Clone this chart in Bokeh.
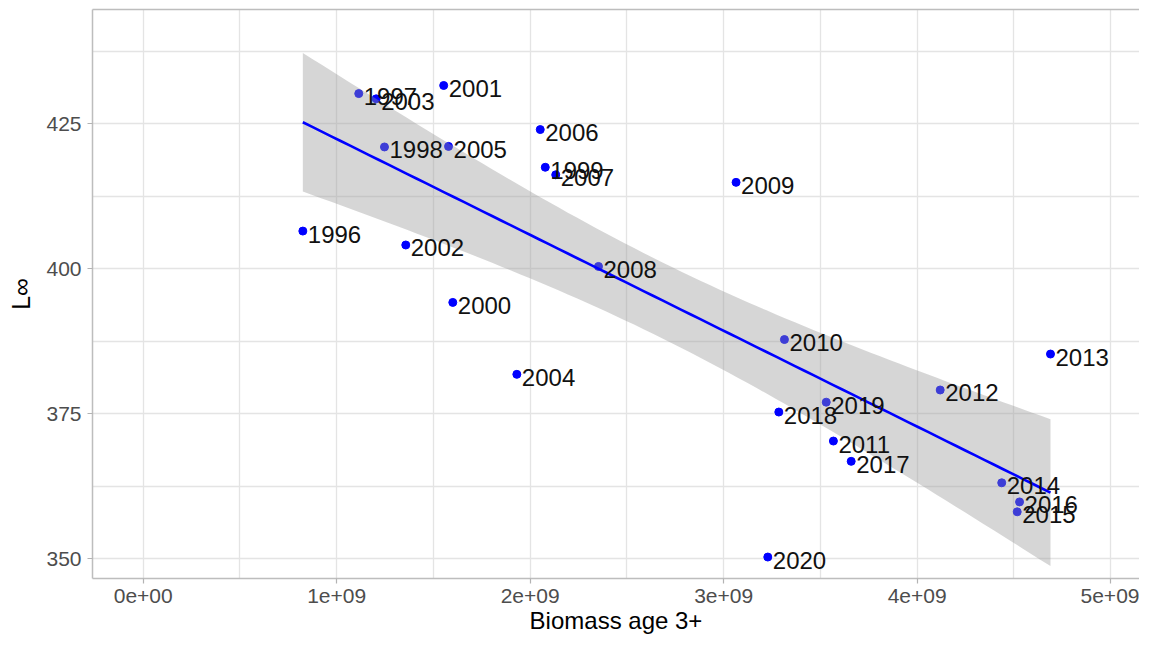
import numpy as np
from bokeh.plotting import figure
from bokeh.models import (Range1d, FixedTicker, LinearAxis, CustomJSTickFormatter,
                          ColumnDataSource)
from bokeh.core.properties import value
from bokeh.embed import file_html
from bokeh.resources import INLINE

# ---- data ----
years = [1996, 1997, 1998, 1999, 2000, 2001, 2002, 2003, 2004, 2005,
         2006, 2007, 2008, 2009, 2010, 2011, 2012, 2013, 2014, 2015,
         2016, 2017, 2018, 2019, 2020]
biomass = [0.825e9, 1.114e9, 1.247e9, 2.078e9, 1.600e9, 1.553e9, 1.357e9, 1.204e9, 1.931e9, 1.578e9,
           2.052e9, 2.132e9, 2.353e9, 3.064e9, 3.314e9, 3.567e9, 4.119e9, 4.689e9, 4.437e9, 4.517e9,
           4.529e9, 3.659e9, 3.285e9, 3.530e9, 3.228e9]
linf = [406.5, 430.2, 421.0, 417.5, 394.2, 431.6, 404.1, 429.3, 381.8, 421.1,
        424.0, 416.2, 400.4, 414.9, 387.8, 370.3, 379.1, 385.3, 363.1, 358.1,
        359.8, 366.8, 375.3, 377.0, 350.3]

x_tick_values = [0, 1e9, 2e9, 3e9, 4e9, 5e9]
x_tick_labels = ["0e+00", "1e+09", "2e+09", "3e+09", "4e+09", "5e+09"]
x_minor_values = [0.5e9, 1.5e9, 2.5e9, 3.5e9, 4.5e9]
y_tick_values = [350, 375, 400, 425]
y_minor_values = [362.5, 387.5, 412.5, 437.5]

# ---- linear fit with 95% confidence band (like geom_smooth(method="lm")) ----
xa = np.array(biomass)
ya = np.array(linf)
n = len(xa)
slope, intercept = np.polyfit(xa, ya, 1)
resid = ya - (slope * xa + intercept)
s = np.sqrt(np.sum(resid ** 2) / (n - 2))
xbar = xa.mean()
sxx = np.sum((xa - xbar) ** 2)
t_crit = 2.0687  # t(0.975, df=23)
xs = np.linspace(xa.min(), xa.max(), 80)
fit = slope * xs + intercept
se = s * np.sqrt(1.0 / n + (xs - xbar) ** 2 / sxx)
lo = fit - t_crit * se
hi = fit + t_crit * se

FONT = "Liberation Sans"
BORDER = "#BDBDBD"
GRID = "#E4E4E4"

p = figure(width=1139, height=639, output_backend="svg", toolbar_location=None,
           x_range=Range1d(-0.262e9, 5.149e9), y_range=Range1d(346.6, 444.7),
           min_border_left=92, min_border_right=0, min_border_top=9, min_border_bottom=61,
           background_fill_color="white", border_fill_color="white")
p.outline_line_color = None

# axes
p.xaxis.ticker = FixedTicker(ticks=x_tick_values, minor_ticks=x_minor_values)
p.yaxis.ticker = FixedTicker(ticks=y_tick_values, minor_ticks=y_minor_values)
p.xaxis.formatter = CustomJSTickFormatter(
    args=dict(vals=x_tick_values, labs=x_tick_labels),
    code="""
    let best = 0, bd = Infinity;
    for (let i = 0; i < vals.length; i++) {
        const d = Math.abs(vals[i] - tick);
        if (d < bd) { bd = d; best = i; }
    }
    return labs[best];
    """)

for ax in (p.xaxis[0], p.yaxis[0]):
    ax.axis_line_color = BORDER
    ax.axis_line_width = 1.5
    ax.major_tick_line_color = "#B3B3B3"
    ax.major_tick_line_width = 1.2
    ax.major_tick_out = 5
    ax.major_tick_in = 0
    ax.minor_tick_line_color = None
    ax.major_label_text_font = FONT
    ax.major_label_text_font_size = "21px"
    ax.major_label_text_color = "#4D4D4D"
    ax.axis_label_text_font = FONT
    ax.axis_label_text_font_style = "normal"
    ax.axis_label_text_color = "black"

p.xaxis.major_label_standoff = 5
p.yaxis.major_label_standoff = 6
p.xaxis.axis_label = "Biomass age 3+"
p.xaxis.axis_label_text_font_size = "24px"
p.xaxis.axis_label_standoff = 1
p.yaxis.axis_label = "L∞"
p.yaxis.axis_label_text_font_size = "25px"
p.yaxis.axis_label_standoff = 8

top = LinearAxis(ticker=FixedTicker(ticks=[]), major_label_text_font_size="0px",
                 major_tick_line_color=None, minor_tick_line_color=None,
                 major_tick_out=0, minor_tick_out=0, major_label_standoff=0,
                 axis_line_color=BORDER, axis_line_width=1.5)
p.add_layout(top, "above")

# grid
for g in (p.xgrid[0], p.ygrid[0]):
    g.grid_line_color = GRID
    g.grid_line_width = 1.3
    g.minor_grid_line_color = GRID
    g.minor_grid_line_width = 1.3

src = ColumnDataSource(dict(x=biomass, y=linf, label=[str(yv) for yv in years]))

p.scatter("x", "y", source=src, size=8, fill_color="#0000FF", line_color="#0000FF")
p.varea(x=xs, y1=lo, y2=hi, fill_color="#999999", fill_alpha=0.4)
p.line(xs, fit, line_color="#0000FF", line_width=2.6)
p.text("x", "y", text="label", source=src, text_font=value(FONT), text_font_size="24px",
       text_color="#111111", text_align="left", text_baseline="alphabetic",
       x_offset=5, y_offset=3)

open("out.html", "w").write(file_html(p, INLINE))
